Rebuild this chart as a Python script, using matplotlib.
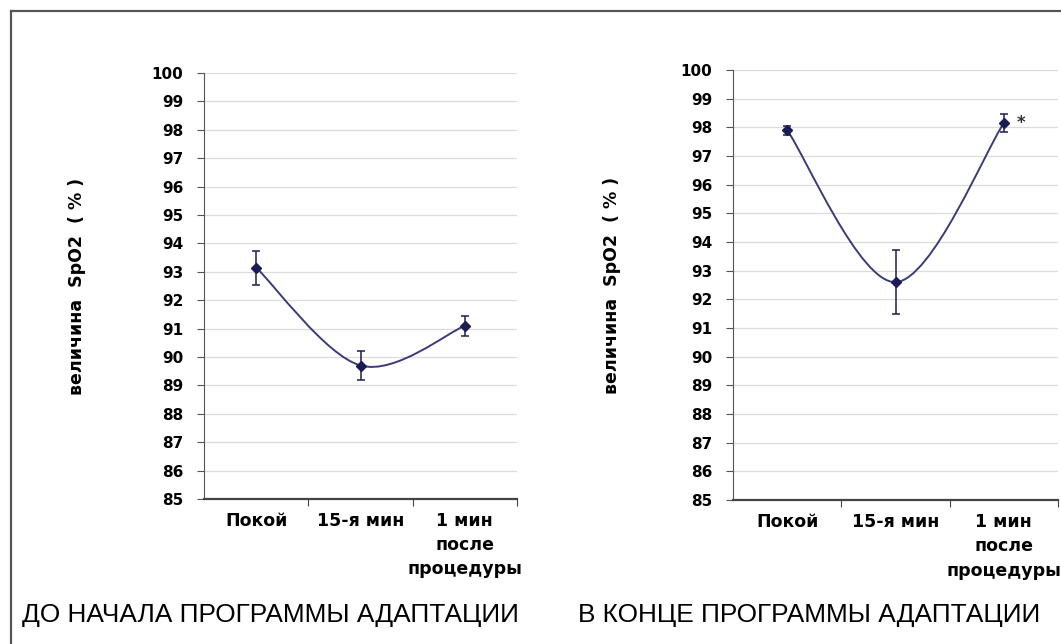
import matplotlib
matplotlib.use("Agg")
import matplotlib.pyplot as plt
from matplotlib.path import Path
from matplotlib.patches import PathPatch
from matplotlib.lines import Line2D
import numpy as np

# data
categories = ["Покой", "15-я мин", "1 мин\nпосле\nпроцедуры"]
before_mean = [93.15, 89.7, 91.1]
before_err = [0.6, 0.5, 0.35]
after_mean = [97.9, 92.6, 98.15]
after_err = [0.15, 1.12, 0.32]
yticks = list(range(85, 101))

titles = ["ДО НАЧАЛА ПРОГРАММЫ АДАПТАЦИИ", "В КОНЦЕ ПРОГРАММЫ АДАПТАЦИИ"]
ylabel = "величина  SpO2  ( % )"

line_col = "#3b3b7a"
mark_col = "#1c1c55"


def smooth_path(x, y):
    # excel-like smoothed line: catmull-rom segments as cubic beziers
    pts = np.column_stack([x, y])
    n = len(pts)
    verts = [pts[0]]
    codes = [Path.MOVETO]
    for i in range(n - 1):
        p_prev = pts[max(i - 1, 0)]
        p0 = pts[i]
        p1 = pts[i + 1]
        p_next = pts[min(i + 2, n - 1)]
        c1 = p0 + (p1 - p_prev) / 6.0
        c2 = p1 - (p_next - p0) / 6.0
        verts += [c1, c2, p1]
        codes += [Path.CURVE4] * 3
    return Path(verts, codes)


def panel(ax, means, errs, label_x):
    x = np.arange(len(means)) + 0.5
    ax.add_patch(PathPatch(smooth_path(x, means), facecolor="none",
                           edgecolor=line_col, lw=1.4, zorder=3))
    ax.errorbar(x, means, yerr=errs, fmt="D", ms=5, color=mark_col,
                ecolor=mark_col, elinewidth=1.1, capsize=3, capthick=1.1,
                zorder=4)
    ax.set_xlim(0, 3)
    ax.set_ylim(85, 100)
    ax.set_yticks(yticks)
    ax.set_yticklabels([str(t) for t in yticks], fontweight="bold",
                       fontsize=11, family="DejaVu Sans")
    ax.set_xticks([1, 2, 3])
    ax.set_xticklabels([])
    for xi, lab in zip(x, categories):
        ax.text(xi, -0.03, lab, transform=ax.get_xaxis_transform(),
                ha="center", va="top", fontsize=12.5, fontweight="bold",
                linespacing=1.45)
    ax.grid(axis="y", color="#dcdcdc", lw=0.9)
    ax.set_axisbelow(True)
    for s in ["top", "right"]:
        ax.spines[s].set_visible(False)
    ax.spines["left"].set_color("#555555")
    ax.spines["bottom"].set_color("#444444")
    ax.spines["bottom"].set_linewidth(1.6)
    ax.tick_params(axis="y", length=5, color="#555555", pad=10)
    ax.tick_params(axis="x", length=5, color="#444444")
    ax.set_ylabel(ylabel, fontsize=12.5, fontweight="bold")
    ax.yaxis.set_label_coords(label_x, 0.5)


fig = plt.figure(figsize=(10.61, 6.44), dpi=100)

ax1 = fig.add_axes([0.1923, 0.2252, 0.295, 0.6614])
panel(ax1, before_mean, before_err, -0.377)

ax2 = fig.add_axes([0.6909, 0.2236, 0.3063, 0.6677])
panel(ax2, after_mean, after_err, -0.345)
ax2.text(2.66, after_mean[2], "*", fontsize=12, fontweight="bold",
         ha="center", va="center", color="#333333")

fig.text(0.0207, 0.034, titles[0], fontsize=18.9, family="Liberation Sans",
         ha="left", va="baseline")
fig.text(0.545, 0.034, titles[1], fontsize=18.9, family="Liberation Sans",
         ha="left", va="baseline")

# frame around the figure (cut off at right and bottom)
fig.add_artist(Line2D([0.0104, 1.0], [1 - 11 / 644, 1 - 11 / 644],
                      color="#555555", lw=1.6, transform=fig.transFigure))
fig.add_artist(Line2D([0.0104, 0.0104], [0.0, 1 - 11 / 644],
                      color="#555555", lw=1.6, transform=fig.transFigure))

fig.savefig("out.png", dpi=100)
